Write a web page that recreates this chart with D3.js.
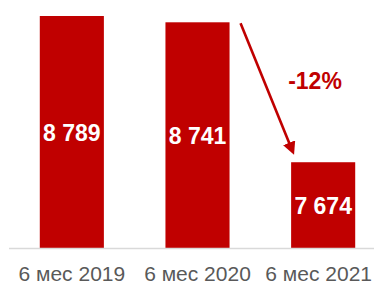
<!DOCTYPE html>
<html>
<head>
<meta charset="utf-8">
<script src="https://cdn.jsdelivr.net/npm/d3@7"></script>
<style>
  body { margin: 0; background: #fff; }
  svg { display: block; }
</style>
</head>
<body>
<svg id="svgContenedor" width="374" height="284"></svg>
<script>
// data
var categorias = ["6 мес 2019", "6 мес 2020", "6 мес 2021"];
var valores = [8789, 8741, 7674];
var etiquetas = ["8 789", "8 741", "7 674"];
var cambio = "-12%";

var rojo = "#c00000";
var ancho = 374;
var svg = d3.select("#svgContenedor");

var x = d3.scaleBand()
    .domain(categorias)
    .range([9, 386])
    .paddingInner(0.49)
    .paddingOuter(0.245);

// the original chart has a truncated value axis
var y = d3.scaleLinear()
    .domain([7020, 8789])
    .range([248, 16]);

// bars
svg.selectAll("rect.barra")
    .data(valores)
    .enter().append("rect")
    .attr("class", "barra")
    .attr("x", function (d, i) { return x(categorias[i]); })
    .attr("y", function (d) { return y(d); })
    .attr("width", x.bandwidth())
    .attr("height", function (d) { return y.range()[0] - y(d); })
    .attr("fill", rojo);

// baseline
svg.append("line")
    .attr("x1", 9)
    .attr("x2", ancho)
    .attr("y1", 248.5)
    .attr("y2", 248.5)
    .attr("stroke", "#d9d9d9")
    .attr("stroke-width", 1.5);

// value labels inside bars
svg.selectAll("text.valor")
    .data(valores)
    .enter().append("text")
    .attr("class", "valor")
    .attr("x", function (d, i) { return x(categorias[i]) + x.bandwidth() / 2; })
    .attr("y", function (d) { return (y(d) + y.range()[0]) / 2 + 9; })
    .attr("text-anchor", "middle")
    .attr("font-family", "Liberation Sans, Arial, sans-serif")
    .attr("font-weight", "bold")
    .attr("font-size", "23px")
    .attr("fill", "white")
    .text(function (d, i) { return etiquetas[i]; });

// category labels
var ejeX = svg.append("g")
    .attr("transform", "translate(0,248)")
    .call(d3.axisBottom(x).tickSize(0).tickPadding(18));
ejeX.select(".domain").remove();
ejeX.selectAll("text")
    .attr("font-family", "Liberation Sans, Arial, sans-serif")
    .attr("font-size", "21px")
    .attr("fill", "#595959")
    .each(function (d) {
        // keep the last label inside the picture, like the original
        var w = this.getComputedTextLength();
        var centro = x(d) + x.bandwidth() / 2;
        var sobra = centro + w / 2 - (ancho - 2);
        if (sobra > 0) d3.select(this).attr("x", -sobra);
    });

// arrow
svg.append("defs").append("marker")
    .attr("id", "punta")
    .attr("viewBox", "0 0 10 10")
    .attr("refX", 2)
    .attr("refY", 5)
    .attr("markerWidth", 5)
    .attr("markerHeight", 5)
    .attr("orient", "auto")
    .append("path")
    .attr("d", "M0,0 L10,5 L0,10 z")
    .attr("fill", rojo);

var x1 = x(categorias[1]) + x.bandwidth() + 11;
var y1 = y(valores[1]) + 1;
var x2 = x(categorias[2]) - 1;
var y2 = y(valores[2]) - 17;
svg.append("line")
    .attr("x1", x1)
    .attr("y1", y1)
    .attr("x2", x2)
    .attr("y2", y2)
    .attr("stroke", rojo)
    .attr("stroke-width", 2.6)
    .attr("marker-end", "url(#punta)");

svg.append("text")
    .attr("x", 315)
    .attr("y", 89)
    .attr("text-anchor", "middle")
    .attr("font-family", "Liberation Sans, Arial, sans-serif")
    .attr("font-weight", "bold")
    .attr("font-size", "23px")
    .attr("fill", rojo)
    .text(cambio);
</script>
</body>
</html>
